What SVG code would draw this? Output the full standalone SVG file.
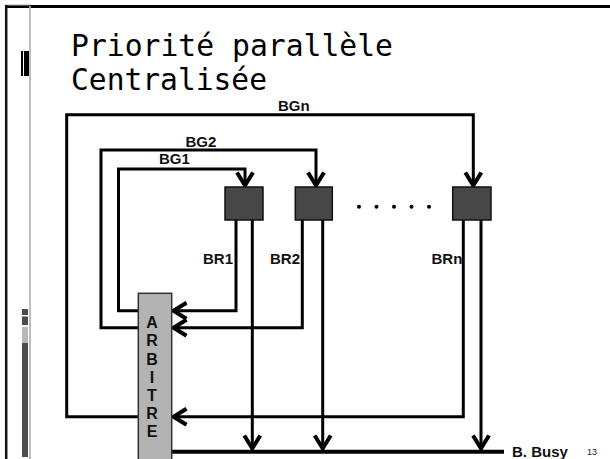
<svg xmlns="http://www.w3.org/2000/svg" width="610" height="459" viewBox="0 0 610 459">
<style>
.title{font-family:"DejaVu Sans Mono","Liberation Mono",monospace;font-size:29.5px;fill:#000}
.lbl{font-family:"Liberation Sans",Arial,sans-serif;font-weight:bold;font-size:15px;fill:#111}
.arb{font-family:"Liberation Sans",Arial,sans-serif;font-weight:bold;font-size:16px;fill:#111;text-anchor:middle}
.w{fill:none;stroke:#000;stroke-width:3;stroke-linejoin:miter}
.box{fill:#474747;stroke:#111;stroke-width:1.5}
</style>
<defs>
<marker id="ah" markerUnits="userSpaceOnUse" markerWidth="24" markerHeight="24" viewBox="-20 -12 24 24" refX="0" refY="0" orient="auto" overflow="visible">
<path d="M-14,-8 L-1,0 L-14,8" fill="none" stroke="#000" stroke-width="4" stroke-linejoin="miter"/>
</marker>
</defs>
<g id="frame">
<line x1="5" y1="6.5" x2="610" y2="6.5" stroke="#000" stroke-width="3"/>
<line x1="5" y1="5" x2="30" y2="5" stroke="#aaa" stroke-width="1"/>
<line x1="6.2" y1="5" x2="6.2" y2="459" stroke="#111" stroke-width="2.5"/>
<line x1="30" y1="6" x2="30" y2="459" stroke="#b0b0b0" stroke-width="1.6"/>
<rect x="21" y="51" width="2" height="25" fill="#000"/>
<rect x="24" y="51" width="5" height="25" fill="#000"/>
<rect x="22" y="309" width="6" height="6" fill="#4d4d4d"/>
<rect x="22" y="316.5" width="6" height="8.5" fill="#4d4d4d"/>
<rect x="22" y="327" width="6" height="16" fill="#b8b8b8"/>
<rect x="22" y="343" width="6" height="114" fill="#4d4d4d"/>
</g>
<g id="title">
<text class="title"><tspan x="71" y="55.5" textLength="322" lengthAdjust="spacingAndGlyphs">Priorité parallèle</tspan><tspan x="71" y="90" textLength="196" lengthAdjust="spacingAndGlyphs">Centralisée</tspan></text>
</g>
<g id="connectors">
<polyline class="w" points="138,416.7 66.7,416.7 66.7,114.7 473.3,114.7 473.3,186.5" marker-end="url(#ah)"/>
<polyline class="w" points="138,327.7 101,327.7 101,150 316,150 316,186.5" marker-end="url(#ah)"/>
<polyline class="w" points="138,310.7 118.5,310.7 118.5,169 245,169 245,186.5" marker-end="url(#ah)"/>
<polyline class="w" points="236,220 236,310.7 172.5,310.7" marker-end="url(#ah)"/>
<polyline class="w" points="302.3,220 302.3,327.7 172.5,327.7" marker-end="url(#ah)"/>
<polyline class="w" points="463.3,220 463.3,416.7 172.5,416.7" marker-end="url(#ah)"/>
<line class="w" x1="252.3" y1="220" x2="252.3" y2="449.5" stroke-width="3.5" marker-end="url(#ah)"/>
<line class="w" x1="322.7" y1="220" x2="322.7" y2="449.5" stroke-width="3.5" marker-end="url(#ah)"/>
<line class="w" x1="481" y1="220" x2="481" y2="449.5" stroke-width="3.5" marker-end="url(#ah)"/>
<line x1="171" y1="451.7" x2="504" y2="451.7" stroke="#000" stroke-width="4"/>
</g>
<g id="dev1"><rect class="box" x="225" y="187" width="38" height="33"/></g>
<g id="dev2"><rect class="box" x="295.3" y="187" width="37" height="33"/></g>
<g id="devn"><rect class="box" x="452.7" y="187" width="38.3" height="33"/></g>
<g id="dots" fill="#000">
<circle cx="359" cy="206.7" r="2"/>
<circle cx="376.5" cy="206.7" r="2"/>
<circle cx="394" cy="206.7" r="2"/>
<circle cx="411.5" cy="206.7" r="2"/>
<circle cx="429" cy="206.7" r="2"/>
</g>
<g id="arbitre">
<rect x="138.3" y="293.3" width="33.4" height="170" fill="#b3b3b3" stroke="#333" stroke-width="1.5"/>
<text class="arb" x="152" y="327.5">A</text>
<text class="arb" x="152" y="346">R</text>
<text class="arb" x="152" y="364.5">B</text>
<text class="arb" x="152" y="382.5">I</text>
<text class="arb" x="152" y="400.5">T</text>
<text class="arb" x="152" y="419">R</text>
<text class="arb" x="152" y="437">E</text>
</g>
<g id="labels">
<text class="lbl" x="278" y="111">BGn</text>
<text class="lbl" x="185.5" y="146.5">BG2</text>
<text class="lbl" x="159" y="164">BG1</text>
<text class="lbl" x="203" y="264">BR1</text>
<text class="lbl" x="270" y="264">BR2</text>
<text class="lbl" x="431.5" y="263.5">BRn</text>
<text class="lbl" x="512" y="457">B. Busy</text>
<text x="587" y="455" font-family="Liberation Sans Narrow,Liberation Sans,Arial,sans-serif" font-size="9" fill="#222">13</text>
</g>
</svg>
